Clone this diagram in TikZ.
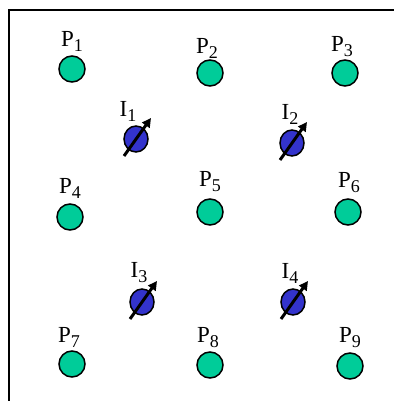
\documentclass[tikz,border=0pt]{standalone}
\usepackage{fontspec}
\setmainfont{Liberation Serif}
\usetikzlibrary{arrows.meta,shapes.geometric}
\newcommand{\lbl}[2]{#1\raisebox{-5pt}{\fontsize{18}{18}\selectfont #2}}
\begin{document}
\begin{tikzpicture}[x=1pt,y=-1pt,
  pdot/.style={circle,draw=black,line width=1.5pt,fill={rgb,255:red,0;green,204;blue,153},minimum size=26pt,inner sep=0pt},
  idot/.style={ellipse,draw=black,line width=1.5pt,fill={rgb,255:red,51;green,51;blue,204},minimum width=24pt,minimum height=26pt,inner sep=0pt},
  lab/.style={font=\fontsize{23}{23}\selectfont,inner sep=0pt},
  spin/.style={line width=3pt,-{Triangle[length=9pt,width=9pt]}},
  frame/.style={line width=1.5pt}]
\useasboundingbox (0,0) rectangle (393,401);
\coordinate (fb) at (9,402);
\coordinate (fc) at (9,10);
\coordinate (fr) at (394,10);
\draw[frame] (fb) -- (fc) -- (fr);
% P nodes
\node[pdot] (P1) at (72,69) {};
\node[pdot] (P2) at (210,73) {};
\node[pdot] (P3) at (345,73) {};
\node[pdot] (P4) at (70,217) {};
\node[pdot] (P5) at (210,212) {};
\node[pdot] (P6) at (348,212) {};
\node[pdot] (P7) at (72,364) {};
\node[pdot] (P8) at (210,365) {};
\node[pdot] (P9) at (350,366) {};
\node[lab] (L1) at (72,41) {\lbl{P}{1}};
\node[lab] (L2) at (207,48) {\lbl{P}{2}};
\node[lab] (L3) at (342,47) {\lbl{P}{3}};
\node[lab] (L4) at (70,188) {\lbl{P}{4}};
\node[lab] (L5) at (210,182) {\lbl{P}{5}};
\node[lab] (L6) at (349,183) {\lbl{P}{6}};
\node[lab] (L7) at (69,337) {\lbl{P}{7}};
\node[lab] (L8) at (208,338) {\lbl{P}{8}};
\node[lab] (L9) at (350,338) {\lbl{P}{9}};
% I nodes
\node[idot] (I1) at (136,139) {};
\node[idot] (I2) at (292,143) {};
\node[idot] (I3) at (142,302) {};
\node[idot] (I4) at (293,302) {};
\foreach \n in {I1,I2,I3,I4}{
  \draw[spin] ([shift={(-12pt,-17pt)}]\n.center) -- ([shift={(15pt,21pt)}]\n.center);
}
\node[lab] (M1) at (128,111) {\lbl{I}{1}};
\node[lab] (M2) at (290,114) {\lbl{I}{2}};
\node[lab] (M3) at (139,273) {\lbl{I}{3}};
\node[lab] (M4) at (290,273) {\lbl{I}{4}};
\end{tikzpicture}
\end{document}
